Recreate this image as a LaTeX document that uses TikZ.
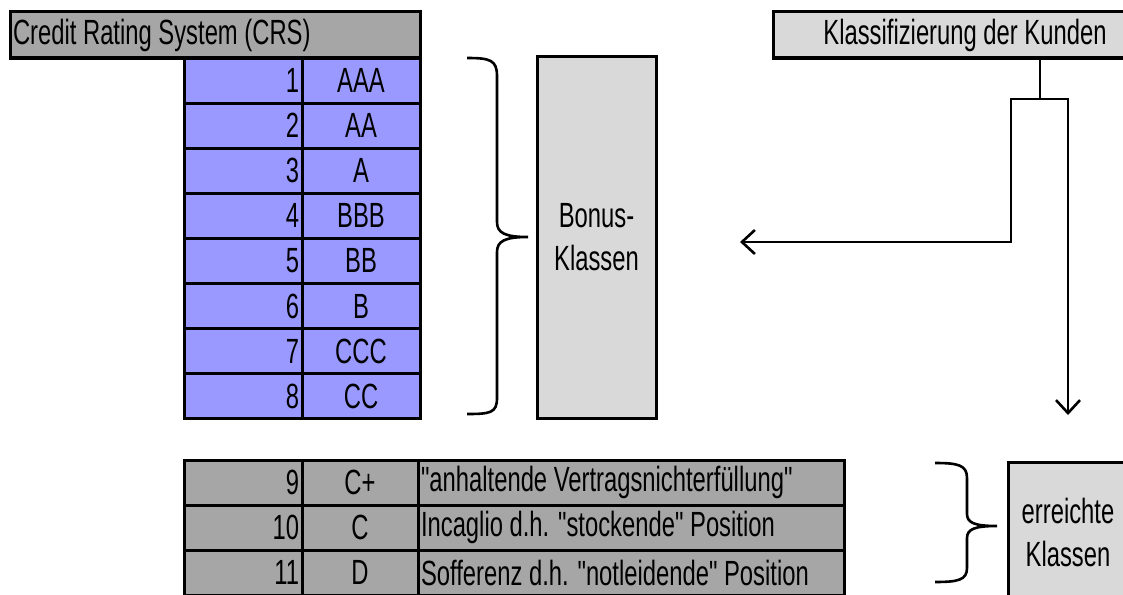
\documentclass[tikz,border=0pt]{standalone}
\usepackage{fontspec}
\setmainfont{Liberation Sans}[FakeStretch=0.68,Ligatures=TeXOff]
\usepackage{tikz}
\usetikzlibrary{arrows.meta}
\definecolor{crsblue}{HTML}{9999FF}
\definecolor{crsgrey}{HTML}{A6A6A6}
\definecolor{crslight}{HTML}{D9D9D9}
\tikzset{
  cell/.style={draw,line width=3pt,inner ysep=0pt,outer sep=0pt,minimum height=45pt,anchor=north west},
  numcell/.style={cell,text width=112pt,inner xsep=3pt,align=flush right},
  gradecell/.style={cell,minimum width=118pt,inner xsep=0pt},
  textcell/.style={cell,text width=420pt,inner xsep=3pt,align=flush left},
  klassbox/.style={draw,line width=3pt,fill=crslight,outer sep=0pt,align=center},
  klammer/.style={line width=2.6pt},
  fluss/.style={line width=2.6pt,-{Straight Barb[length=13pt,width=24pt]}},
  every picture/.style={font=\fontsize{35}{43}\selectfont}
}

\begin{document}
\begin{tikzpicture}[x=1pt,y=-1pt]
  \useasboundingbox (0,0) rectangle (1123,594);

  % Kopfzeile
  \node[cell,fill=crsgrey,text width=404pt,inner xsep=3pt,align=flush left,minimum height=46pt] (crs) at (10,12) {Credit Rating System (CRS)};

  % Bonusklassen 1--8
  \foreach \n/\r [count=\i from 0] in {1/AAA,2/AA,3/A,4/BBB,5/BB,6/B,7/CCC,8/CC} {
    \node[numcell,fill=crsblue] (num\n) at (184,{58+45.1*\i}) {\n};
    \node[gradecell,fill=crsblue] (grade\n) at (302,{58+45.1*\i}) {\r};
  }

  % Ausfallklassen 9--11
  \foreach \n/\r/\t [count=\i from 0] in {9/C+/{"anhaltende Vertragsnichterfüllung"},
      10/C/{Incaglio d.h. "stockende" Position},11/D/{Sofferenz d.h. "notleidende" Position}} {
    \node[numcell,fill=crsgrey] (num\n) at (184,{460+45*\i}) {\n};
    \node[gradecell,fill=crsgrey,minimum width=116pt] (grade\n) at (302,{460+45*\i}) {\r};
    \node[textcell,fill=crsgrey] (text\n) at (418,{460+45*\i}) {\t};
  }

  \node[klassbox,minimum width=119pt,minimum height=361pt,anchor=north west] (bonus) at (537,57) {Bonus-\\Klassen};
  \node[klassbox,minimum width=120pt,minimum height=140pt,anchor=north west] (erreicht) at (1008,462) {erreichte\\Klassen};
  \node[klassbox,minimum width=384pt,minimum height=46pt,anchor=north west] (kunden) at (773,12) {Klassifizierung der Kunden};

  % geschweifte Klammern
  \draw[klammer] (467,58) .. controls (490,58) and (497,60) .. (497,76) -- (497,222)
    .. controls (497,233) and (505,237) .. (528,237)
    .. controls (505,237) and (497,241) .. (497,252) -- (497,398)
    .. controls (497,413) and (490,414) .. (467,414);
  \draw[klammer] (935,463) .. controls (958,463) and (967,465) .. (967,478) -- (967,514)
    .. controls (967,523) and (975,526) .. (997,526)
    .. controls (975,526) and (967,529) .. (967,538) -- (967,568)
    .. controls (967,580) and (958,582) .. (935,582);

  % Verzweigung
  \coordinate (fork) at (1040,99);
  \coordinate (bonusin) at (740,242);
  \coordinate (erreichtin) at (1068,415);
  \draw[line width=2.6pt] (kunden.south -| fork) -- (fork);
  \draw[fluss] (fork) -| (1011,242) -- (bonusin);
  \draw[fluss] (fork) -| (erreichtin);
\end{tikzpicture}
\end{document}
